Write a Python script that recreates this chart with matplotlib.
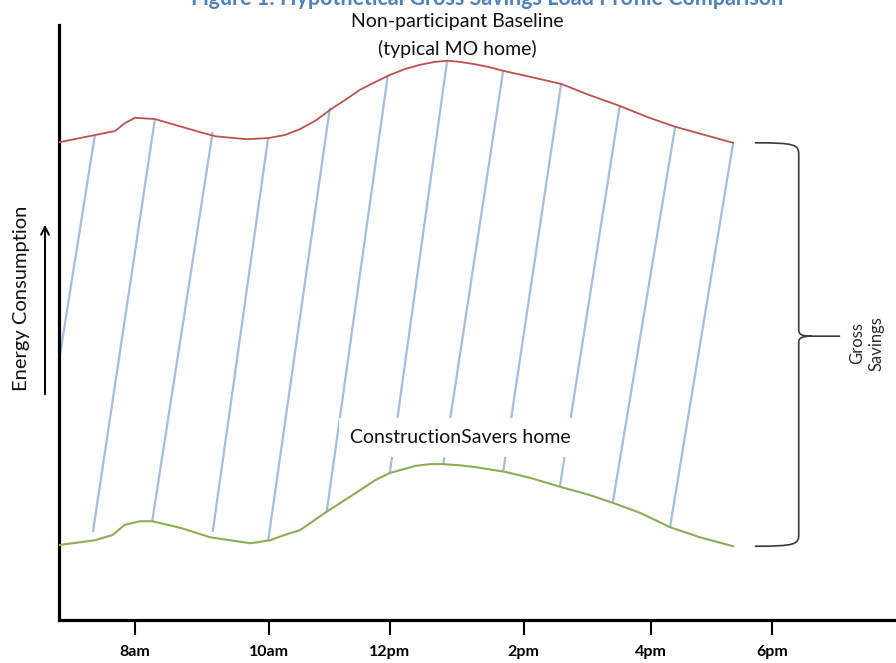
import matplotlib
matplotlib.use("Agg")
import matplotlib.pyplot as plt
from matplotlib.path import Path
from matplotlib.patches import PathPatch

plt.rcParams['font.family'] = ['Lato', 'DejaVu Sans']

# time of day (hours) and energy (arbitrary units)
baseline_hours = [6.81, 7.37, 7.69, 7.84, 8.00, 8.31, 9.02, 9.26, 9.76, 10.09, 10.35, 10.59,
                  10.83, 11.11, 11.30, 11.53, 11.77, 12.00, 12.24, 12.47, 12.71, 12.91, 13.10,
                  13.34, 13.57, 13.78, 14.20, 14.69, 15.14, 15.61, 16.05, 16.48, 16.95, 17.39]
baseline_energy = [80.3, 81.5, 82.2, 83.5, 84.4, 84.2, 82.0, 81.3, 80.8, 81.0, 81.5, 82.5,
                   83.9, 86.1, 87.4, 89.1, 90.4, 91.6, 92.6, 93.3, 93.8, 94.0, 93.8,
                   93.4, 92.9, 92.3, 91.3, 90.1, 88.2, 86.4, 84.5, 82.9, 81.5, 80.2]

savers_hours = [6.81, 7.37, 7.65, 7.84, 8.08, 8.27, 8.71, 9.18, 9.81, 10.12, 10.35, 10.59,
                11.01, 11.30, 11.53, 11.77, 12.00, 12.40, 12.63, 12.83, 13.10, 13.34, 13.81,
                14.20, 14.67, 15.14, 15.50, 15.93, 16.40, 16.87, 17.39]
savers_energy = [12.6, 13.4, 14.3, 16.0, 16.6, 16.6, 15.5, 13.9, 12.9, 13.4, 14.3, 15.1,
                 18.2, 20.2, 21.8, 23.5, 24.7, 25.9, 26.2, 26.2, 26.0, 25.7, 24.9,
                 23.9, 22.4, 21.0, 19.7, 18.0, 15.6, 13.9, 12.4]

# hatch lines (savings): bottom point -> top point
hatch_low_hours = [6.81, 7.34, 8.27, 9.22, 10.09, 11.01, 12.00, 12.84, 13.78, 14.67, 15.50, 16.40]
hatch_low_energy = [43.7, 14.8, 16.6, 14.8, 13.3, 18.2, 24.7, 26.2, 24.9, 22.4, 19.7, 15.6]
hatch_high_hours = [7.37, 8.31, 9.22, 10.09, 11.06, 11.97, 12.90, 13.78, 14.69, 15.61, 16.48, 17.39]
hatch_high_energy = [81.5, 84.0, 82.0, 81.0, 86.1, 91.6, 94.0, 92.3, 90.1, 86.4, 82.9, 80.2]

tick_hours = [8.0, 10.1, 12.0, 14.1, 16.1, 18.0]
tick_labels = ['8am', '10am', '12pm', '2pm', '4pm', '6pm']

fig = plt.figure(figsize=(8.96, 6.63), dpi=100)
ax = fig.add_axes([59 / 896, 43 / 663, 837 / 896, 595 / 663])
ax.set_xlim(6.807, 19.947)
ax.set_ylim(0, 100)

for xb, yb, xt, yt in zip(hatch_low_hours, hatch_low_energy, hatch_high_hours, hatch_high_energy):
    ax.plot([xb, xt], [yb, yt], color='#a2bde0', lw=1.6, zorder=1, solid_capstyle='butt')

ax.plot(baseline_hours, baseline_energy, color='#c0504d', lw=1.3, zorder=3)
ax.plot(savers_hours, savers_energy, color='#8cad55', lw=1.5, zorder=3)

# brace on the right
x0, x1, x2 = 17.73, 18.42, 19.07
yt, yb, ym, r = 80.2, 12.4, 47.7, 2.0
verts = [(x0, yt), (x1 - 0.05, yt), (x1, yt - 0.3), (x1, yt - r),
         (x1, ym + 1.0),
         (x1, ym + 0.3), (x1 + 0.05, ym), (x1 + 0.2, ym),
         (x2, ym),
         (x1 + 0.2, ym), (x1 + 0.05, ym), (x1, ym - 0.3), (x1, ym - 1.0),
         (x1, yb + r),
         (x1, yb + 0.3), (x1 - 0.05, yb), (x0, yb)]
codes = [Path.MOVETO, Path.CURVE4, Path.CURVE4, Path.CURVE4,
         Path.LINETO,
         Path.CURVE4, Path.CURVE4, Path.CURVE4,
         Path.LINETO,
         Path.MOVETO, Path.CURVE4, Path.CURVE4, Path.CURVE4,
         Path.LINETO,
         Path.CURVE4, Path.CURVE4, Path.CURVE4]
ax.add_patch(PathPatch(Path(verts, codes), fill=False, edgecolor='#3a3a3a', lw=1.2, clip_on=False))

ax.text(19.49, 46.5, 'Gross\nSavings', rotation=90, ha='center', va='center',
        fontsize=12, color='#2a2a2a', multialignment='center', linespacing=1.3)

ax.text(13.1, 30.7, 'ConstructionSavers home', ha='center', va='center', fontsize=14,
        color='#111111', zorder=4,
        bbox=dict(boxstyle='square,pad=0.55', fc='white', ec='none'))

fig.text(457 / 896, 1 - 22 / 663, 'Non-participant Baseline', ha='center', va='center',
         fontsize=14, color='#111111')
fig.text(457 / 896, 1 - 49 / 663, '(typical MO home)', ha='center', va='center',
         fontsize=14, color='#111111')
fig.text(487 / 896, 1 - 5 / 663, 'Figure 1: Hypothetical Gross Savings Load Profile Comparison',
         ha='center', va='baseline', fontsize=15.5, fontweight='bold', color='#4f81bd')

fig.text(22 / 896, 1 - 298 / 663, 'Energy Consumption', rotation=90, ha='center', va='center',
         fontsize=14.5, color='#111111')
ax.annotate('', xy=(45, 663 - 222), xytext=(45, 663 - 397), xycoords='figure pixels',
            textcoords='figure pixels',
            arrowprops=dict(arrowstyle='->', color='black', lw=1.4, mutation_scale=14))

for side in ['top', 'right']:
    ax.spines[side].set_visible(False)
for side in ['left', 'bottom']:
    ax.spines[side].set_linewidth(2.3)
    ax.spines[side].set_capstyle('projecting')
ax.set_yticks([])
ax.set_xticks(tick_hours)
ax.set_xticklabels(tick_labels, fontweight='bold')
ax.tick_params(axis='x', direction='out', length=11, width=1.5, labelsize=11.5, pad=7)

fig.savefig('out.png', dpi=100)
